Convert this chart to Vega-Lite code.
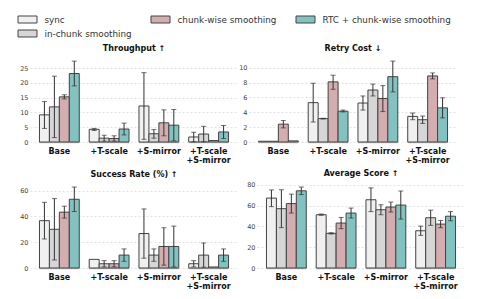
{
  "$schema": "https://vega.github.io/schema/vega-lite/v6.json",
  "background": "white",
  "padding": {"left": 19, "top": 14, "right": 0, "bottom": 0},
  "config": {
    "font": "DejaVu Sans",
    "view": {"stroke": null},
    "axis": {"domain": false, "ticks": false, "labelFont": "DejaVu Sans", "title": null},
    "axisY": {"grid": true, "gridColor": "#dcdcdc", "gridDash": [2, 2], "gridWidth": 0.8, "labelFontSize": 6.5, "labelColor": "#444444", "labelPadding": 2},
    "axisX": {"grid": false, "labelFontSize": 8, "labelFontWeight": "bold", "labelColor": "#111111", "labelPadding": 5, "labelAngle": 0, "labelLineHeight": 9.5},
    "title": {"font": "DejaVu Sans", "fontSize": 8, "fontWeight": "bold", "offset": 4, "color": "#111111", "anchor": "middle"},
    "legend": {
      "orient": "none", "legendX": -8, "legendY": -43, "title": null, "columns": 3, "direction": "horizontal",
      "symbolType": "M-1.9,-0.7H1.9V0.7H-1.9Z", "symbolSize": 100, "symbolStrokeColor": "#444444", "symbolStrokeWidth": 1,
      "labelFont": "DejaVu Sans", "labelFontSize": 8.8, "labelColor": "#333333", "labelOffset": 11.5,
      "columnPadding": 17, "rowPadding": 3, "padding": 0, "offset": 0
    }
  },
  "datasets": {
    "d": [
      {"panel": "T", "group": "Base", "method": "sync", "value": 9.2, "lo": 4.6, "hi": 13.7},
      {"panel": "T", "group": "Base", "method": "in-chunk smoothing", "value": 11.9, "lo": 1.5, "hi": 22.3},
      {"panel": "T", "group": "Base", "method": "chunk-wise smoothing", "value": 15.3, "lo": 14.6, "hi": 16.0},
      {"panel": "T", "group": "Base", "method": "RTC + chunk-wise smoothing", "value": 23.2, "lo": 19.0, "hi": 27.4},
      {"panel": "T", "group": "+T-scale", "method": "sync", "value": 4.3, "lo": 3.9, "hi": 4.6},
      {"panel": "T", "group": "+T-scale", "method": "in-chunk smoothing", "value": 1.3, "lo": 0.3, "hi": 2.3},
      {"panel": "T", "group": "+T-scale", "method": "chunk-wise smoothing", "value": 1.2, "lo": 0.3, "hi": 2.1},
      {"panel": "T", "group": "+T-scale", "method": "RTC + chunk-wise smoothing", "value": 4.4, "lo": 2.4, "hi": 6.4},
      {"panel": "T", "group": "+S-mirror", "method": "sync", "value": 12.2, "lo": 0.9, "hi": 23.5},
      {"panel": "T", "group": "+S-mirror", "method": "in-chunk smoothing", "value": 2.8, "lo": 1.3, "hi": 4.2},
      {"panel": "T", "group": "+S-mirror", "method": "chunk-wise smoothing", "value": 6.5, "lo": 2.1, "hi": 10.9},
      {"panel": "T", "group": "+S-mirror", "method": "RTC + chunk-wise smoothing", "value": 5.7, "lo": 0.4, "hi": 11.0},
      {"panel": "T", "group": "+T-scale|+S-mirror", "method": "sync", "value": 1.7, "lo": 0.1, "hi": 3.3},
      {"panel": "T", "group": "+T-scale|+S-mirror", "method": "in-chunk smoothing", "value": 2.7, "lo": 0.1, "hi": 5.3},
      {"panel": "T", "group": "+T-scale|+S-mirror", "method": "chunk-wise smoothing", "value": 0.5, "lo": null, "hi": null},
      {"panel": "T", "group": "+T-scale|+S-mirror", "method": "RTC + chunk-wise smoothing", "value": 3.4, "lo": 1.2, "hi": 5.6},

      {"panel": "R", "group": "Base", "method": "sync", "value": 0.1, "lo": null, "hi": null},
      {"panel": "R", "group": "Base", "method": "in-chunk smoothing", "value": 0.1, "lo": null, "hi": null},
      {"panel": "R", "group": "Base", "method": "chunk-wise smoothing", "value": 2.4, "lo": 1.9, "hi": 2.9},
      {"panel": "R", "group": "Base", "method": "RTC + chunk-wise smoothing", "value": 0.15, "lo": null, "hi": null},
      {"panel": "R", "group": "+T-scale", "method": "sync", "value": 5.3, "lo": 2.7, "hi": 7.9},
      {"panel": "R", "group": "+T-scale", "method": "in-chunk smoothing", "value": 3.15, "lo": 3.1, "hi": 3.2},
      {"panel": "R", "group": "+T-scale", "method": "chunk-wise smoothing", "value": 8.1, "lo": 7.1, "hi": 9.0},
      {"panel": "R", "group": "+T-scale", "method": "RTC + chunk-wise smoothing", "value": 4.15, "lo": 4.05, "hi": 4.3},
      {"panel": "R", "group": "+S-mirror", "method": "sync", "value": 5.25, "lo": 4.3, "hi": 6.2},
      {"panel": "R", "group": "+S-mirror", "method": "in-chunk smoothing", "value": 7.0, "lo": 6.2, "hi": 7.8},
      {"panel": "R", "group": "+S-mirror", "method": "chunk-wise smoothing", "value": 5.85, "lo": 4.1, "hi": 7.6},
      {"panel": "R", "group": "+S-mirror", "method": "RTC + chunk-wise smoothing", "value": 8.8, "lo": 6.75, "hi": 10.9},
      {"panel": "R", "group": "+T-scale|+S-mirror", "method": "sync", "value": 3.45, "lo": 3.0, "hi": 3.9},
      {"panel": "R", "group": "+T-scale|+S-mirror", "method": "in-chunk smoothing", "value": 3.0, "lo": 2.5, "hi": 3.5},
      {"panel": "R", "group": "+T-scale|+S-mirror", "method": "chunk-wise smoothing", "value": 8.9, "lo": 8.5, "hi": 9.3},
      {"panel": "R", "group": "+T-scale|+S-mirror", "method": "RTC + chunk-wise smoothing", "value": 4.6, "lo": 3.25, "hi": 5.95},

      {"panel": "S", "group": "Base", "method": "sync", "value": 36.7, "lo": 22.5, "hi": 50.9},
      {"panel": "S", "group": "Base", "method": "in-chunk smoothing", "value": 30.0, "lo": 6.2, "hi": 53.8},
      {"panel": "S", "group": "Base", "method": "chunk-wise smoothing", "value": 43.3, "lo": 38.7, "hi": 47.9},
      {"panel": "S", "group": "Base", "method": "RTC + chunk-wise smoothing", "value": 53.3, "lo": 43.8, "hi": 62.8},
      {"panel": "S", "group": "+T-scale", "method": "sync", "value": 6.7, "lo": null, "hi": null},
      {"panel": "S", "group": "+T-scale", "method": "in-chunk smoothing", "value": 3.3, "lo": 0.9, "hi": 5.7},
      {"panel": "S", "group": "+T-scale", "method": "chunk-wise smoothing", "value": 3.3, "lo": 0.9, "hi": 5.7},
      {"panel": "S", "group": "+T-scale", "method": "RTC + chunk-wise smoothing", "value": 10.0, "lo": 5.2, "hi": 14.8},
      {"panel": "S", "group": "+S-mirror", "method": "sync", "value": 26.7, "lo": 7.6, "hi": 45.8},
      {"panel": "S", "group": "+S-mirror", "method": "in-chunk smoothing", "value": 10.0, "lo": 5.2, "hi": 14.8},
      {"panel": "S", "group": "+S-mirror", "method": "chunk-wise smoothing", "value": 16.7, "lo": 2.2, "hi": 31.2},
      {"panel": "S", "group": "+S-mirror", "method": "RTC + chunk-wise smoothing", "value": 16.7, "lo": 0.8, "hi": 32.5},
      {"panel": "S", "group": "+T-scale|+S-mirror", "method": "sync", "value": 3.3, "lo": 0.9, "hi": 5.7},
      {"panel": "S", "group": "+T-scale|+S-mirror", "method": "in-chunk smoothing", "value": 10.0, "lo": 0.6, "hi": 19.4},
      {"panel": "S", "group": "+T-scale|+S-mirror", "method": "chunk-wise smoothing", "value": 0.8, "lo": null, "hi": null},
      {"panel": "S", "group": "+T-scale|+S-mirror", "method": "RTC + chunk-wise smoothing", "value": 10.0, "lo": 5.2, "hi": 14.8},

      {"panel": "A", "group": "Base", "method": "sync", "value": 67.2, "lo": 59.0, "hi": 75.0},
      {"panel": "A", "group": "Base", "method": "in-chunk smoothing", "value": 57.0, "lo": 38.8, "hi": 75.2},
      {"panel": "A", "group": "Base", "method": "chunk-wise smoothing", "value": 61.9, "lo": 52.8, "hi": 71.0},
      {"panel": "A", "group": "Base", "method": "RTC + chunk-wise smoothing", "value": 74.2, "lo": 70.6, "hi": 77.8},
      {"panel": "A", "group": "+T-scale", "method": "sync", "value": 51.2, "lo": 50.6, "hi": 51.8},
      {"panel": "A", "group": "+T-scale", "method": "in-chunk smoothing", "value": 33.3, "lo": 32.7, "hi": 33.9},
      {"panel": "A", "group": "+T-scale", "method": "chunk-wise smoothing", "value": 43.2, "lo": 37.8, "hi": 48.6},
      {"panel": "A", "group": "+T-scale", "method": "RTC + chunk-wise smoothing", "value": 52.8, "lo": 48.0, "hi": 57.6},
      {"panel": "A", "group": "+S-mirror", "method": "sync", "value": 65.6, "lo": 54.2, "hi": 77.0},
      {"panel": "A", "group": "+S-mirror", "method": "in-chunk smoothing", "value": 56.0, "lo": 51.2, "hi": 60.8},
      {"panel": "A", "group": "+S-mirror", "method": "chunk-wise smoothing", "value": 58.6, "lo": 53.8, "hi": 63.4},
      {"panel": "A", "group": "+S-mirror", "method": "RTC + chunk-wise smoothing", "value": 60.5, "lo": 47.0, "hi": 74.0},
      {"panel": "A", "group": "+T-scale|+S-mirror", "method": "sync", "value": 35.8, "lo": 31.4, "hi": 40.3},
      {"panel": "A", "group": "+T-scale|+S-mirror", "method": "in-chunk smoothing", "value": 48.3, "lo": 41.0, "hi": 55.6},
      {"panel": "A", "group": "+T-scale|+S-mirror", "method": "chunk-wise smoothing", "value": 42.2, "lo": 38.7, "hi": 45.7},
      {"panel": "A", "group": "+T-scale|+S-mirror", "method": "RTC + chunk-wise smoothing", "value": 49.8, "lo": 45.4, "hi": 54.2}
    ]
  },
  "data": {"name": "d"},
  "spacing": 4,
  "vconcat": [
    {
      "spacing": 0,
      "hconcat": [
        {
          "width": 208, "height": 85,
          "title": "Throughput ↑",
          "transform": [{"filter": "datum.panel == 'T'"}],
          "encoding": {
            "x": {"field": "group", "type": "nominal", "sort": ["Base", "+T-scale", "+S-mirror", "+T-scale|+S-mirror"], "scale": {"paddingInner": 0.2, "paddingOuter": 0.19}, "axis": {"labelExpr": "split(datum.value, '|')"}},
            "xOffset": {"field": "method", "type": "nominal", "sort": ["sync", "in-chunk smoothing", "chunk-wise smoothing", "RTC + chunk-wise smoothing"], "scale": {"paddingInner": 0, "paddingOuter": 0}}
          },
          "layer": [
            {"mark": {"type": "bar", "fill": "#000000", "opacity": 0.22, "xOffset": 1.3, "yOffset": 1.3},
             "encoding": {"y": {"field": "value", "type": "quantitative", "scale": {"domain": [0, 28.8], "nice": false}, "axis": {"values": [0, 5, 10, 15, 20, 25]}}}},
            {"mark": {"type": "bar", "stroke": "#444444", "strokeWidth": 1, "opacity": 1},
             "encoding": {
               "y": {"field": "value", "type": "quantitative", "axis": {"values": [0, 5, 10, 15, 20, 25]}},
               "color": {"field": "method", "type": "nominal", "scale": {"domain": ["sync", "chunk-wise smoothing", "RTC + chunk-wise smoothing", "in-chunk smoothing"], "range": ["#f0f0f0", "#d3adb0", "#82c3c1", "#d6d6d6"]}}
             }},
            {"mark": {"type": "rule", "color": "#333333", "strokeWidth": 1}, "encoding": {"y": {"field": "lo", "type": "quantitative", "axis": {"values": [0, 5, 10, 15, 20, 25]}}, "y2": {"field": "hi"}}},
            {"mark": {"type": "tick", "color": "#333333", "size": 5, "thickness": 1}, "encoding": {"y": {"field": "lo", "type": "quantitative", "axis": {"values": [0, 5, 10, 15, 20, 25]}}}},
            {"mark": {"type": "tick", "color": "#333333", "size": 5, "thickness": 1}, "encoding": {"y": {"field": "hi", "type": "quantitative", "axis": {"values": [0, 5, 10, 15, 20, 25]}}}}
          ]
        },
        {
          "width": 208, "height": 85,
          "title": "Retry Cost ↓",
          "transform": [{"filter": "datum.panel == 'R'"}],
          "encoding": {
            "x": {"field": "group", "type": "nominal", "sort": ["Base", "+T-scale", "+S-mirror", "+T-scale|+S-mirror"], "scale": {"paddingInner": 0.2, "paddingOuter": 0.19}, "axis": {"labelExpr": "split(datum.value, '|')"}},
            "xOffset": {"field": "method", "type": "nominal", "sort": ["sync", "in-chunk smoothing", "chunk-wise smoothing", "RTC + chunk-wise smoothing"], "scale": {"paddingInner": 0, "paddingOuter": 0}}
          },
          "layer": [
            {"mark": {"type": "bar", "fill": "#000000", "opacity": 0.22, "xOffset": 1.3, "yOffset": 1.3},
             "encoding": {"y": {"field": "value", "type": "quantitative", "scale": {"domain": [0, 11.45], "nice": false}, "axis": {"values": [0, 2, 4, 6, 8, 10]}}}},
            {"mark": {"type": "bar", "stroke": "#444444", "strokeWidth": 1, "opacity": 1},
             "encoding": {
               "y": {"field": "value", "type": "quantitative", "axis": {"values": [0, 2, 4, 6, 8, 10]}},
               "color": {"field": "method", "type": "nominal", "scale": {"domain": ["sync", "chunk-wise smoothing", "RTC + chunk-wise smoothing", "in-chunk smoothing"], "range": ["#f0f0f0", "#d3adb0", "#82c3c1", "#d6d6d6"]}}
             }},
            {"mark": {"type": "rule", "color": "#333333", "strokeWidth": 1}, "encoding": {"y": {"field": "lo", "type": "quantitative", "axis": {"values": [0, 2, 4, 6, 8, 10]}}, "y2": {"field": "hi"}}},
            {"mark": {"type": "tick", "color": "#333333", "size": 5, "thickness": 1}, "encoding": {"y": {"field": "lo", "type": "quantitative", "axis": {"values": [0, 2, 4, 6, 8, 10]}}}},
            {"mark": {"type": "tick", "color": "#333333", "size": 5, "thickness": 1}, "encoding": {"y": {"field": "hi", "type": "quantitative", "axis": {"values": [0, 2, 4, 6, 8, 10]}}}}
          ]
        }
      ]
    },
    {
      "spacing": 8,
      "hconcat": [
        {
          "width": 208, "height": 85,
          "title": "Success Rate (%) ↑",
          "transform": [{"filter": "datum.panel == 'S'"}],
          "encoding": {
            "x": {"field": "group", "type": "nominal", "sort": ["Base", "+T-scale", "+S-mirror", "+T-scale|+S-mirror"], "scale": {"paddingInner": 0.2, "paddingOuter": 0.19}, "axis": {"labelExpr": "split(datum.value, '|')"}},
            "xOffset": {"field": "method", "type": "nominal", "sort": ["sync", "in-chunk smoothing", "chunk-wise smoothing", "RTC + chunk-wise smoothing"], "scale": {"paddingInner": 0, "paddingOuter": 0}}
          },
          "layer": [
            {"mark": {"type": "bar", "fill": "#000000", "opacity": 0.22, "xOffset": 1.3, "yOffset": 1.3},
             "encoding": {"y": {"field": "value", "type": "quantitative", "scale": {"domain": [0, 65.9], "nice": false}, "axis": {"values": [0, 20, 40, 60]}}}},
            {"mark": {"type": "bar", "stroke": "#444444", "strokeWidth": 1, "opacity": 1},
             "encoding": {
               "y": {"field": "value", "type": "quantitative", "axis": {"values": [0, 20, 40, 60]}},
               "color": {"field": "method", "type": "nominal", "scale": {"domain": ["sync", "chunk-wise smoothing", "RTC + chunk-wise smoothing", "in-chunk smoothing"], "range": ["#f0f0f0", "#d3adb0", "#82c3c1", "#d6d6d6"]}}
             }},
            {"mark": {"type": "rule", "color": "#333333", "strokeWidth": 1}, "encoding": {"y": {"field": "lo", "type": "quantitative", "axis": {"values": [0, 20, 40, 60]}}, "y2": {"field": "hi"}}},
            {"mark": {"type": "tick", "color": "#333333", "size": 5, "thickness": 1}, "encoding": {"y": {"field": "lo", "type": "quantitative", "axis": {"values": [0, 20, 40, 60]}}}},
            {"mark": {"type": "tick", "color": "#333333", "size": 5, "thickness": 1}, "encoding": {"y": {"field": "hi", "type": "quantitative", "axis": {"values": [0, 20, 40, 60]}}}}
          ]
        },
        {
          "width": 208, "height": 85,
          "title": "Average Score ↑",
          "transform": [{"filter": "datum.panel == 'A'"}],
          "encoding": {
            "x": {"field": "group", "type": "nominal", "sort": ["Base", "+T-scale", "+S-mirror", "+T-scale|+S-mirror"], "scale": {"paddingInner": 0.2, "paddingOuter": 0.19}, "axis": {"labelExpr": "split(datum.value, '|')"}},
            "xOffset": {"field": "method", "type": "nominal", "sort": ["sync", "in-chunk smoothing", "chunk-wise smoothing", "RTC + chunk-wise smoothing"], "scale": {"paddingInner": 0, "paddingOuter": 0}}
          },
          "layer": [
            {"mark": {"type": "bar", "fill": "#000000", "opacity": 0.22, "xOffset": 1.3, "yOffset": 1.3},
             "encoding": {"y": {"field": "value", "type": "quantitative", "scale": {"domain": [0, 81.7], "nice": false}, "axis": {"values": [0, 20, 40, 60, 80]}}}},
            {"mark": {"type": "bar", "stroke": "#444444", "strokeWidth": 1, "opacity": 1},
             "encoding": {
               "y": {"field": "value", "type": "quantitative", "axis": {"values": [0, 20, 40, 60, 80]}},
               "color": {"field": "method", "type": "nominal", "scale": {"domain": ["sync", "chunk-wise smoothing", "RTC + chunk-wise smoothing", "in-chunk smoothing"], "range": ["#f0f0f0", "#d3adb0", "#82c3c1", "#d6d6d6"]}}
             }},
            {"mark": {"type": "rule", "color": "#333333", "strokeWidth": 1}, "encoding": {"y": {"field": "lo", "type": "quantitative", "axis": {"values": [0, 20, 40, 60, 80]}}, "y2": {"field": "hi"}}},
            {"mark": {"type": "tick", "color": "#333333", "size": 5, "thickness": 1}, "encoding": {"y": {"field": "lo", "type": "quantitative", "axis": {"values": [0, 20, 40, 60, 80]}}}},
            {"mark": {"type": "tick", "color": "#333333", "size": 5, "thickness": 1}, "encoding": {"y": {"field": "hi", "type": "quantitative", "axis": {"values": [0, 20, 40, 60, 80]}}}}
          ]
        }
      ]
    }
  ]
}
